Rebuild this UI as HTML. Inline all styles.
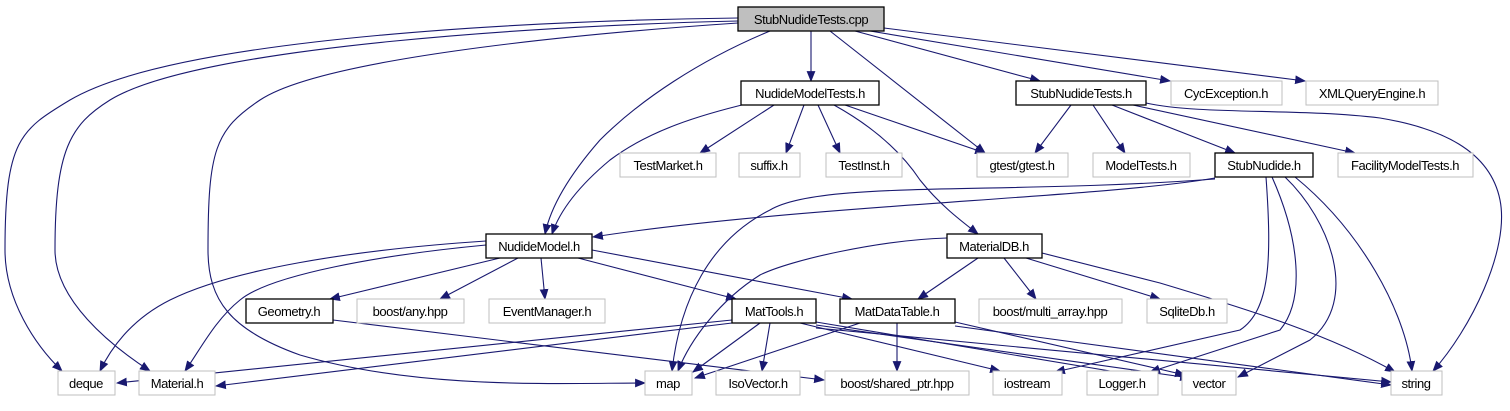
<!DOCTYPE html>
<html><head><meta charset="utf-8"><style>
html,body{margin:0;padding:0;background:#fff;width:1510px;height:411px;overflow:hidden}
svg{display:block}
text{font-family:"Liberation Sans",sans-serif;font-size:13px;letter-spacing:-0.45px;fill:#000;text-anchor:middle}
.e{fill:none;stroke:#191970;stroke-width:1.1}
.b{fill:#fff;stroke:#000;stroke-width:1.3}
.g{fill:#fff;stroke:#bfbfbf;stroke-width:1}
</style></head><body>
<svg width="1510" height="411" viewBox="0 0 1510 411">
<defs><marker id="a" viewBox="0 0 10 10" refX="9" refY="5" markerWidth="11" markerHeight="11" markerUnits="userSpaceOnUse" orient="auto"><path d="M0,1 L10,5 L0,9 z" fill="#191970"/></marker></defs>
<g class="e" marker-end="url(#a)">
<path d="M738,18 C560,20 180,35 70,100 C20,130 5,140 5,250 C5,300 35,345 62,371"/>
<path d="M738,21 C560,25 200,45 110,100 C70,125 55,150 55,250 C55,300 110,345 150,371"/>
<path d="M738,23 C560,35 320,60 260,100 C215,130 208,150 208,250 C208,300 230,330 300,355 C420,390 560,383 645,383"/>
<path d="M770,31 C700,60 640,100 600,140 C565,180 550,210 545,234"/>
<path d="M811,31 L811,81"/>
<path d="M830,31 L985,153"/>
<path d="M855,31 L1040,81"/>
<path d="M870,31 L1170,81"/>
<path d="M884,28 L1305,81"/>
<path d="M750,103 C700,115 650,130 610,160 C580,185 560,210 552,234"/>
<path d="M774,105 L700,153"/>
<path d="M804,105 L786,153"/>
<path d="M818,105 L840,153"/>
<path d="M845,105 L985,153"/>
<path d="M834,105 C870,125 900,150 920,180 C940,205 960,220 978,234"/>
<path d="M1071,105 L1035,153"/>
<path d="M1093,105 L1125,153"/>
<path d="M1112,105 L1235,153"/>
<path d="M1133,105 L1355,153"/>
<path d="M1146,103 C1200,115 1300,108 1380,118 C1440,128 1490,150 1500,200 C1510,250 1470,330 1433,371"/>
<path d="M1215,178 C1100,198 800,205 593,237"/>
<path d="M1215,179 C1000,195 820,180 770,210 C710,240 680,300 672,371"/>
<path d="M1266,177 C1272,260 1270,310 1240,330 L1055,372"/>
<path d="M1272,177 C1300,240 1305,300 1280,330 L1150,372"/>
<path d="M1285,177 C1330,220 1360,300 1310,340 L1238,377"/>
<path d="M1295,177 C1360,230 1405,310 1412,371"/>
<path d="M486,241 C350,250 230,270 170,300 C130,320 110,350 100,371"/>
<path d="M486,245 C380,255 270,275 240,300 C215,320 200,350 185,371"/>
<path d="M500,258 L330,299"/>
<path d="M518,258 L440,299"/>
<path d="M541,258 L545,299"/>
<path d="M578,258 L736,299"/>
<path d="M592,250 L852,299"/>
<path d="M947,238 C880,240 790,260 760,275 C720,300 690,340 678,371"/>
<path d="M978,258 L918,299"/>
<path d="M1004,258 L1036,299"/>
<path d="M1026,258 L1160,299"/>
<path d="M1042,253 L1160,283 C1250,310 1330,335 1395,372"/>
<path d="M333,320 L824,380"/>
<path d="M732,320 L117,383"/>
<path d="M732,323 L216,386"/>
<path d="M760,323 L693,372"/>
<path d="M770,323 L762,371"/>
<path d="M800,323 L1000,371"/>
<path d="M816,322 L1140,376"/>
<path d="M816,325 L1190,378"/>
<path d="M816,328 L1391,382"/>
<path d="M860,323 L695,378"/>
<path d="M897,323 L897,371"/>
<path d="M955,322 L1185,375"/>
<path d="M955,326 L1391,385"/>
</g>
<rect x="738" y="7" width="146" height="24" fill="#bfbfbf" stroke="#000" stroke-width="1.3"/><text x="811" y="24">StubNudideTests.cpp</text>
<rect class="b" x="741" y="81" width="138" height="24"/><text x="810" y="98">NudideModelTests.h</text>
<rect class="b" x="1016" y="81" width="130" height="24"/><text x="1081" y="98">StubNudideTests.h</text>
<rect class="g" x="1171" y="81" width="111" height="24"/><text x="1226" y="98">CycException.h</text>
<rect class="g" x="1306" y="81" width="132" height="24"/><text x="1372" y="98">XMLQueryEngine.h</text>
<rect class="g" x="620" y="153" width="96" height="24"/><text x="668" y="170">TestMarket.h</text>
<rect class="g" x="739" y="153" width="61" height="24"/><text x="769" y="170">suffix.h</text>
<rect class="g" x="826" y="153" width="76" height="24"/><text x="864" y="170">TestInst.h</text>
<rect class="g" x="977" y="153" width="91" height="24"/><text x="1022" y="170">gtest/gtest.h</text>
<rect class="g" x="1093" y="153" width="97" height="24"/><text x="1141" y="170">ModelTests.h</text>
<rect class="b" x="1215" y="153" width="98" height="24"/><text x="1264" y="170">StubNudide.h</text>
<rect class="g" x="1338" y="153" width="135" height="24"/><text x="1405" y="170">FacilityModelTests.h</text>
<rect class="b" x="486" y="234" width="106" height="24"/><text x="539" y="251">NudideModel.h</text>
<rect class="b" x="947" y="234" width="95" height="24"/><text x="994" y="251">MaterialDB.h</text>
<rect class="b" x="246" y="299" width="87" height="24"/><text x="289" y="316">Geometry.h</text>
<rect class="g" x="357" y="299" width="107" height="24"/><text x="410" y="316">boost/any.hpp</text>
<rect class="g" x="489" y="299" width="116" height="24"/><text x="547" y="316">EventManager.h</text>
<rect class="b" x="732" y="299" width="84" height="24"/><text x="774" y="316">MatTools.h</text>
<rect class="b" x="840" y="299" width="115" height="24"/><text x="897" y="316">MatDataTable.h</text>
<rect class="g" x="979" y="299" width="143" height="24"/><text x="1050" y="316">boost/multi_array.hpp</text>
<rect class="g" x="1147" y="299" width="80" height="24"/><text x="1187" y="316">SqliteDb.h</text>
<rect class="g" x="58" y="371" width="57" height="24"/><text x="86" y="388">deque</text>
<rect class="g" x="139" y="371" width="76" height="24"/><text x="177" y="388">Material.h</text>
<rect class="g" x="645" y="371" width="47" height="24"/><text x="668" y="388">map</text>
<rect class="g" x="716" y="371" width="84" height="24"/><text x="758" y="388">IsoVector.h</text>
<rect class="g" x="825" y="371" width="144" height="24"/><text x="897" y="388">boost/shared_ptr.hpp</text>
<rect class="g" x="993" y="371" width="69" height="24"/><text x="1027" y="388">iostream</text>
<rect class="g" x="1087" y="371" width="71" height="24"/><text x="1122" y="388">Logger.h</text>
<rect class="g" x="1182" y="371" width="54" height="24"/><text x="1209" y="388">vector</text>
<rect class="g" x="1391" y="371" width="51" height="24"/><text x="1416" y="388">string</text>
</svg>
</body></html>
